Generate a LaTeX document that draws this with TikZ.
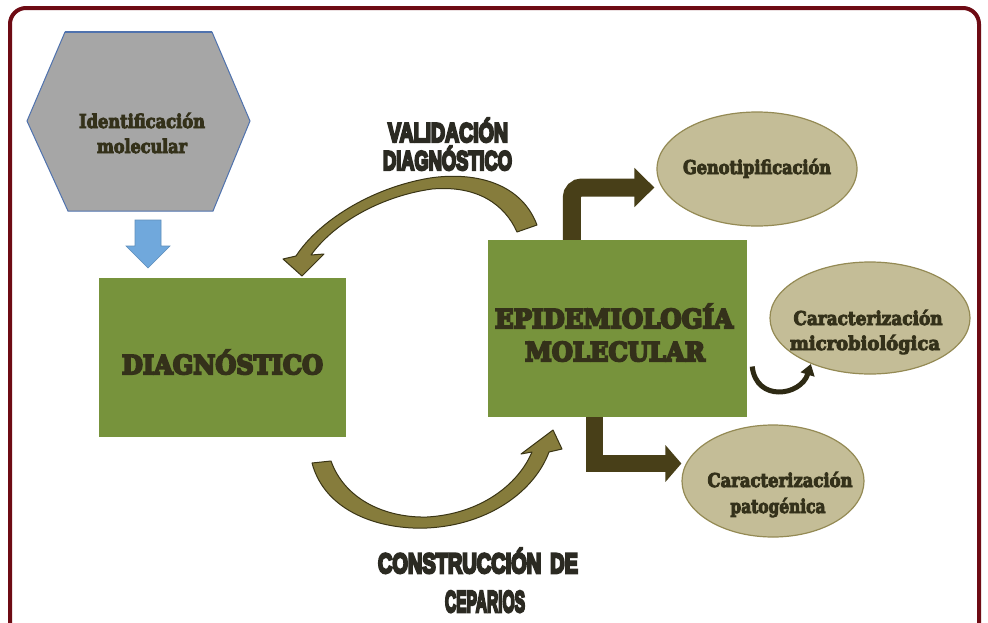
\documentclass[tikz,border=0pt]{standalone}
\usepackage{fontspec}
\usepackage{graphicx}
\usetikzlibrary{arrows.meta,shapes.geometric,calc}
\newfontfamily\boxf{DejaVu Serif Bold}[FakeBold=8]
\newfontfamily\ellf{DejaVu Serif Bold}[FakeBold=5]
\newfontfamily\labf{Liberation Sans Bold}[FakeBold=9]
\definecolor{framecol}{HTML}{6E0B14}
\definecolor{boxgreen}{HTML}{77933C}
\definecolor{elfill}{HTML}{C4BD97}
\definecolor{eldraw}{HTML}{948A54}
\definecolor{darkarr}{HTML}{483F18}
\definecolor{smallarr}{HTML}{2E2A14}
\definecolor{olivearr}{HTML}{867C3C}
\definecolor{oliveline}{HTML}{3A3515}
\definecolor{hexfill}{HTML}{A6A6A6}
\definecolor{hexline}{HTML}{4F72AE}
\definecolor{bluearr}{HTML}{70A8DC}
\definecolor{txtdark}{HTML}{34311A}
\definecolor{lbltxt}{HTML}{2B2A22}
\newcommand{\fw}[2]{\resizebox{#1}{\height}{#2}}
\newcommand{\fwh}[3]{\resizebox{#1}{#2}{#3}}
\tikzset{
  greenbox/.style={fill=boxgreen, inner sep=0pt},
  ellnode/.style={ellipse, fill=elfill, draw=eldraw, line width=1.2pt, inner sep=0pt},
  boxtxt/.style={anchor=base, inner sep=0pt, text=txtdark, font=\boxf\fontsize{26}{30}\selectfont},
  elltxt/.style={anchor=base, inner sep=0pt, text=txtdark, font=\ellf\fontsize{19}{22}\selectfont},
  lbl/.style={anchor=base, inner sep=0pt, text=lbltxt, font=\labf\fontsize{27}{30}\selectfont},
  lblbig/.style={lbl, font=\labf\fontsize{28}{30}\selectfont},
  blockarrow/.style={draw=darkarr, line width=18pt},
  curvearrow/.style={fill=olivearr, draw=oliveline, line width=1pt, line join=round},
}
\begin{document}
\begin{tikzpicture}[x=1pt,y=-1pt]
\useasboundingbox (0,0) rectangle (988,622);
\fill[white] (0,0) rectangle (988,622);
\begin{scope}
  \clip (0,0) rectangle (988,622);
  \draw[framecol, line width=4pt, rounded corners=16pt] (10,8) rectangle (979,660);
\end{scope}

% hexagon
\filldraw[fill=hexfill, draw=hexline, line width=1pt] (65,32) -- (212,32) -- (250,121) -- (213,211) -- (68,211) -- (27,121) -- cycle;
\draw[hexline, line width=2pt] (65,32) -- (212,32);
\node[elltxt] (id1) at (142,128) {\fw{126pt}{Identificación}};
\node[elltxt] (id2) at (142,153) {\fw{90pt}{molecular}};

% blue arrow
\filldraw[fill=bluearr, draw=bluearr!85!black, line width=0.6pt] (135,220) -- (161,220) -- (161,246) -- (170,246) -- (148,268) -- (126,246) -- (135,246) -- cycle;

% boxes
\node[greenbox, minimum width=247pt, minimum height=159pt] (diag) at (222.5,357.5) {};
\node[greenbox, minimum width=259pt, minimum height=177pt] (epi) at (617.5,328.5) {};
\node[boxtxt] (diagt) at (222.5,374) {\fw{201pt}{DIAGNÓSTICO}};
\node[boxtxt] (epit1) at (614,328) {\fw{238pt}{EPIDEMIOLOGÍA}};
\node[boxtxt] (epit2) at (615,361) {\fw{180pt}{MOLECULAR}};

% ellipses
\node[ellnode, minimum width=200pt, minimum height=114pt] (geno) at (757,169) {};
\node[ellnode, minimum width=200pt, minimum height=112pt] (micro) at (870,318) {};
\node[ellnode, minimum width=182pt, minimum height=112pt] (pato) at (773,481) {};
\node[elltxt] (genot) at (757,174) {\fw{148pt}{Genotipificación}};
\node[elltxt] (microt1) at (868,325) {\fw{149pt}{Caracterización}};
\node[elltxt] (microt2) at (865,350) {\fw{150pt}{microbiológica}};
\node[elltxt] (patot1) at (780,487) {\fw{145pt}{Caracterización}};
\node[elltxt] (patot2) at (778,513) {\fw{95pt}{patogénica}};

% dark block arrows
\draw[blockarrow, rounded corners=10pt, -{Triangle[width=38pt,length=20pt]}]
  ($(epi.north west)+(84,0)$) |- ($(geno.west)+(-2,18.5)$);
\draw[blockarrow, line width=17pt, -{Triangle[width=36pt,length=16pt]}]
  ($(epi.south west)+(107,0)$) |- ($(pato.west)+(0,-17.5)$);
\draw[smallarr, line width=5pt, -{Triangle[width=14pt,length=11pt]}]
  ($(epi.east)+(5,38)$) .. controls +(4,36) and +(-10,32) .. ($(micro.south west)+(12,6)$);

% olive curved arrows
\filldraw[curvearrow] (537,225) .. controls (520,180) and (470,172) .. (430,178)
  .. controls (370,188) and (318,222) .. (296,256) -- (283,259) -- (302,276) -- (324,254) -- (311,255)
  .. controls (335,222) and (382,196) .. (432,189) .. controls (478,185) and (505,205) .. (517,232) -- cycle;
\filldraw[curvearrow] (312,463) .. controls (325,512) and (380,530) .. (427,528)
  .. controls (490,525) and (535,490) .. (549,452) -- (562,449) -- (553,430) -- (521,454) -- (532,452)
  .. controls (518,485) and (480,514) .. (427,517) .. controls (386,518) and (345,500) .. (331,461) -- cycle;

% labels
\node[lbl] (val1) at (448,142) {\fw{120pt}{VALIDACIÓN}};
\node[lbl] (val2) at (447.5,170) {\fw{129pt}{DIAGNÓSTICO}};
\node[lblbig] (con1) at (478,573) {\fw{200pt}{CONSTRUCCIÓN\hspace{0.45em}DE}};
\node[lblbig] (con2) at (485,612) {\fwh{80pt}{21pt}{CEPARIOS}};
\end{tikzpicture}
\end{document}
